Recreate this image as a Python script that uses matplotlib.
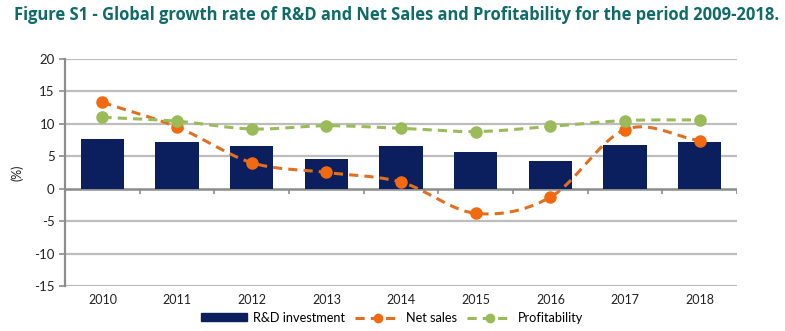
import numpy as np
import matplotlib.pyplot as plt
from matplotlib.lines import Line2D
from matplotlib.patches import Patch

years = ['2010', '2011', '2012', '2013', '2014', '2015', '2016', '2017', '2018']
rd_investment = [7.7, 7.2, 6.6, 4.5, 6.6, 5.7, 4.2, 6.8, 7.2]
net_sales = [13.3, 9.5, 4.0, 2.5, 1.0, -3.8, -1.3, 9.1, 7.4]
profitability = [11.0, 10.4, 9.2, 9.7, 9.3, 8.8, 9.6, 10.5, 10.6]

c_bar = '#0b1f5e'
c_sales = '#f26a10'
c_sales_line = '#e07020'
c_prof = '#9bbb59'
grid_c = '#bdbdbd'

plt.rcParams['font.family'] = ['Lato', 'DejaVu Sans']
plt.rcParams['axes.unicode_minus'] = False


def smooth(y, n=30):
    # Catmull-Rom curve through the points, like Excel's smoothed line
    p = np.asarray(y, dtype=float)
    x = np.arange(len(p), dtype=float)
    px = np.concatenate([[2 * x[0] - x[1]], x, [2 * x[-1] - x[-2]]])
    py = np.concatenate([[2 * p[0] - p[1]], p, [2 * p[-1] - p[-2]]])
    xs, ys = [], []
    for i in range(1, len(px) - 2):
        t = np.linspace(0, 1, n)
        for arr, out in ((px, xs), (py, ys)):
            p0, p1, p2, p3 = arr[i - 1], arr[i], arr[i + 1], arr[i + 2]
            out.extend(0.5 * ((2 * p1) + (-p0 + p2) * t + (2 * p0 - 5 * p1 + 4 * p2 - p3) * t ** 2
                              + (-p0 + 3 * p1 - 3 * p2 + p3) * t ** 3))
    return np.array(xs), np.array(ys)


fig = plt.figure(figsize=(7.85, 3.31), dpi=100)
ax = fig.add_axes([0.083, 0.136, 0.856, 0.686])

x = np.arange(len(years))

for v in [-15, -10, -5, 5, 10, 15, 20]:
    ax.axhline(v, color=grid_c, lw=1.6, zorder=0)
ax.axhline(0, color='#8c8c8c', lw=1.8, zorder=1)
ax.vlines(np.arange(len(years) + 1) - 0.5, -0.8, 0, color='#8c8c8c', lw=1.2, zorder=1)

ax.bar(x, rd_investment, width=0.58, color=c_bar, zorder=2)

sx, sy = smooth(net_sales)
ax.plot(sx, sy, color=c_sales_line, lw=2.2, ls=(0, (3, 2)), zorder=3)
ax.plot(x, net_sales, 'o', color=c_sales, ms=8, zorder=4)

px_, py_ = smooth(profitability)
ax.plot(px_, py_, color=c_prof, lw=2.2, ls=(0, (3, 2)), zorder=3)
ax.plot(x, profitability, 'o', color=c_prof, ms=8, zorder=4)

ax.set_xlim(-0.5, len(years) - 0.5)
ax.set_ylim(-15, 20)
ax.set_yticks(range(-15, 21, 5))
ax.set_xticks(x)
ax.set_xticklabels(years)
ax.tick_params(axis='x', length=0, pad=6, labelsize=9, colors='#222222')
ax.tick_params(axis='y', length=4, width=1.2, color='#8c8c8c', labelsize=9.5, labelcolor='#222222')
for s in ['top', 'right', 'bottom']:
    ax.spines[s].set_visible(False)
ax.spines['left'].set_color('#8c8c8c')
ax.spines['left'].set_linewidth(1.6)
ax.set_ylabel('(%)', fontsize=9, labelpad=8, color='#222222')

handles = [
    Patch(facecolor=c_bar, edgecolor=c_bar),
    Line2D([], [], color=c_sales_line, lw=2.2, ls=(0, (3, 2)), marker='o', ms=6,
           markerfacecolor=c_sales, markeredgecolor=c_sales),
    Line2D([], [], color=c_prof, lw=2.2, ls=(0, (3, 2)), marker='o', ms=6,
           markerfacecolor=c_prof, markeredgecolor=c_prof),
]
fig.legend(handles, ['R&D investment', 'Net sales', 'Profitability'],
           loc='center', bbox_to_anchor=(0.5, 0.04), ncol=3, frameon=False,
           fontsize=9.2, handlelength=3.6, handleheight=0.55, columnspacing=0.8,
           handletextpad=0.4)

fig.text(0.018, 0.955, 'Figure S1 - Global growth rate of R&D and Net Sales and Profitability for the period 2009-2018.',
         fontsize=11.9, fontweight='bold', color='#0f6b68', va='center', ha='left',
         family=['Open Sans', 'DejaVu Sans'])

plt.savefig('out.png', dpi=100)
